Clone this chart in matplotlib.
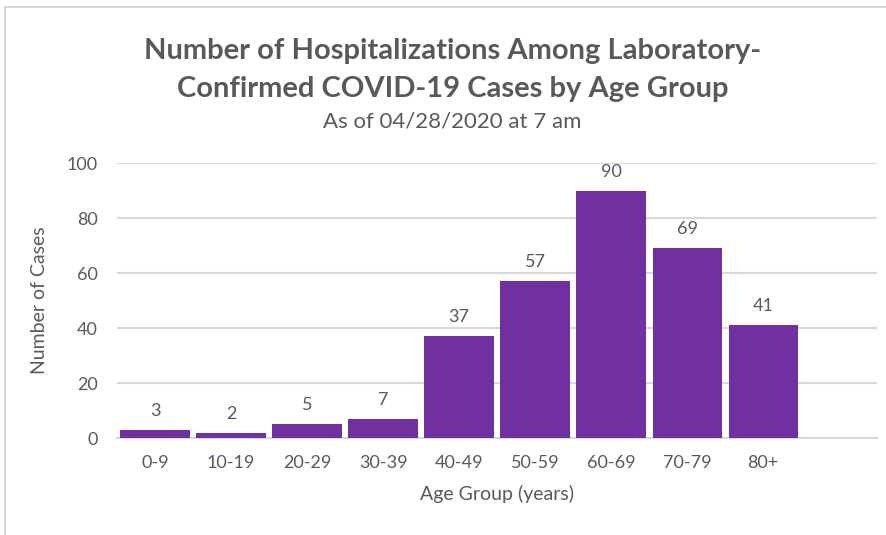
import matplotlib.pyplot as plt
from matplotlib.lines import Line2D

# data
age_groups = ["0-9", "10-19", "20-29", "30-39", "40-49", "50-59", "60-69", "70-79", "80+", ""]
cases = [3, 2, 5, 7, 37, 57, 90, 69, 41]

bar_color = "#7030A0"
text_color = "#595959"
grid_color = "#D9D9D9"

plt.rcParams["font.family"] = ["Lato", "DejaVu Sans"]

fig = plt.figure(figsize=(8.86, 5.35), dpi=100)
ax = fig.add_axes([0.132, 0.181, 0.858, 0.514])

x = list(range(len(age_groups)))
bars = ax.bar(x[:len(cases)], cases, width=0.91, color=bar_color, zorder=3)

for b, v in zip(bars, cases):
    ax.text(b.get_x() + b.get_width() / 2, v + 4, str(v), ha="center", va="bottom",
            fontsize=13, color=text_color)

ax.set_xlim(-0.5, len(age_groups) - 0.5)
ax.set_ylim(0, 100)
ax.set_yticks([0, 20, 40, 60, 80, 100])
ax.set_xticks(x)
ax.set_xticklabels(age_groups)
ax.tick_params(axis="both", length=0, labelsize=13, colors=text_color)
ax.tick_params(axis="x", pad=12)
ax.tick_params(axis="y", pad=14)

ax.grid(axis="y", color=grid_color, linewidth=1.5, zorder=0)
for side in ["top", "right", "left"]:
    ax.spines[side].set_visible(False)
ax.spines["bottom"].set_color(grid_color)
ax.spines["bottom"].set_linewidth(1.5)

ax.set_xlabel("Age Group (years)", fontsize=14, color=text_color, labelpad=10)
ax.set_ylabel("Number of Cases", fontsize=14, color=text_color, labelpad=13)

fig.text(0.511, 0.890, "Number of Hospitalizations Among Laboratory-", ha="center", va="baseline",
         fontsize=21, fontweight="bold", color=text_color)
fig.text(0.511, 0.819, "Confirmed COVID-19 Cases by Age Group", ha="center", va="baseline",
         fontsize=21, fontweight="bold", color=text_color)
fig.text(0.511, 0.761, "As of 04/28/2020 at 7 am", ha="center", va="baseline",
         fontsize=16, color=text_color)

# frame edges visible in the screenshot (left and top only)
fig.add_artist(Line2D([0.006, 0.006], [0, 0.987], transform=fig.transFigure, color="#D0D0D0", linewidth=1.2))
fig.add_artist(Line2D([0.006, 1], [0.987, 0.987], transform=fig.transFigure, color="#D0D0D0", linewidth=1.2))

fig.savefig("out.png", dpi=100)
